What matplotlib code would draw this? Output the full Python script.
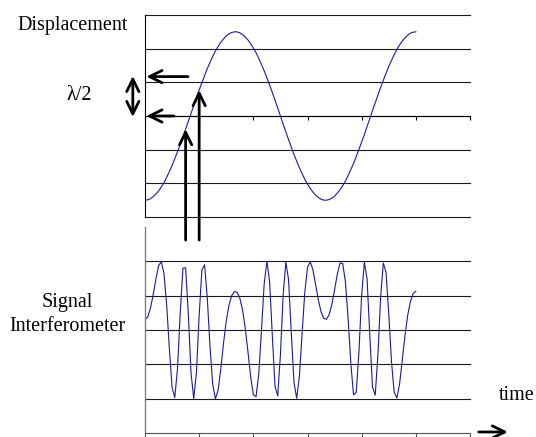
import numpy as np
import matplotlib
matplotlib.use("Agg")
import matplotlib.pyplot as plt

# 101 samples drawn over 5 of the 6 category tick intervals
sample = np.arange(101)

displacement = [
  -2.50, -2.49, -2.46, -2.40, -2.32, -2.23, -2.11, -1.98, -1.82, -1.65,
  -1.47, -1.27, -1.06, -0.85, -0.62, -0.39, -0.16, 0.08, 0.31, 0.55,
  0.77, 0.99, 1.20, 1.41, 1.59, 1.77, 1.93, 2.07, 2.19, 2.29,
  2.38, 2.44, 2.48, 2.50, 2.50, 2.47, 2.42, 2.35, 2.26, 2.15,
  2.02, 1.88, 1.71, 1.53, 1.34, 1.14, 0.92, 0.70, 0.47, 0.24,
  0.00, -0.24, -0.47, -0.70, -0.92, -1.14, -1.34, -1.53, -1.71, -1.88,
  -2.02, -2.15, -2.26, -2.35, -2.42, -2.47, -2.50, -2.50, -2.48, -2.44,
  -2.38, -2.29, -2.19, -2.07, -1.93, -1.77, -1.59, -1.41, -1.20, -0.99,
  -0.77, -0.55, -0.31, -0.08, 0.16, 0.39, 0.62, 0.85, 1.06, 1.27,
  1.47, 1.65, 1.82, 1.98, 2.11, 2.23, 2.32, 2.40, 2.46, 2.49,
  2.50,
]

signal = [
  3.30, 3.38, 3.63, 4.02, 4.47, 4.87, 4.99, 4.65, 3.73, 2.45,
  1.33, 1.03, 1.88, 3.49, 4.80, 4.81, 3.46, 1.74, 1.00, 1.77,
  3.43, 4.75, 4.90, 3.93, 2.52, 1.41, 1.00, 1.25, 1.88, 2.62,
  3.26, 3.72, 4.00, 4.12, 4.10, 3.93, 3.59, 3.06, 2.38, 1.65,
  1.11, 1.06, 1.71, 2.99, 4.34, 5.00, 4.42, 2.85, 1.36, 1.08,
  2.27, 4.01, 4.98, 4.47, 2.93, 1.48, 1.01, 1.64, 2.89, 4.10,
  4.82, 4.99, 4.75, 4.32, 3.88, 3.53, 3.34, 3.31, 3.45, 3.75,
  4.17, 4.62, 4.95, 4.94, 4.40, 3.33, 2.03, 1.11, 1.19, 2.38,
  4.02, 4.98, 4.48, 2.85, 1.34, 1.10, 2.28, 3.96, 4.95, 4.68,
  3.47, 2.09, 1.19, 1.02, 1.43, 2.13, 2.85, 3.43, 3.83, 4.06,
  4.13,
]

# the two samples picked out by the vertical arrows
marked = [15, 20]

W, H = 536, 437
LINE = "#1c1c96"
FONT = "Liberation Serif"
FS = 14.5


def fig_rect(x0, y0, x1, y1):
  return [x0 / W, 1 - y1 / H, (x1 - x0) / W, (y1 - y0) / H]


fig = plt.figure(figsize=(W / 100, H / 100), dpi=100)

# ---------- displacement panel ----------
ax1 = fig.add_axes(fig_rect(145, 15, 470, 217))
ax1.plot(sample, displacement, color=LINE, lw=0.8)
ax1.set_xlim(0, 120)
ax1.set_ylim(-3, 3)
ax1.set_xticks(range(0, 121, 20))
ax1.set_yticks(range(-3, 4))
ax1.yaxis.grid(True, color="#1a1a1a", lw=0.8)
ax1.tick_params(axis="y", length=0, labelleft=False)
ax1.tick_params(axis="x", direction="out", length=3, width=0.8, labelbottom=False)
for s in ("top", "right"):
  ax1.spines[s].set_visible(False)
ax1.spines["bottom"].set_position(("data", 0))
ax1.spines["bottom"].set_linewidth(0.8)
ax1.spines["left"].set_linewidth(0.8)
ax1.patch.set_alpha(0)

# ---------- interferometer signal panel ----------
ax2 = fig.add_axes(fig_rect(145, 227, 470, 433))
ax2.plot(sample, signal, color=LINE, lw=0.8)
ax2.set_xlim(0, 120)
ax2.set_ylim(0, 6)
ax2.set_xticks(range(0, 121, 20))
ax2.set_yticks(range(1, 6))
ax2.yaxis.grid(True, color="#1a1a1a", lw=0.8)
ax2.tick_params(axis="y", length=0, labelleft=False)
ax2.tick_params(axis="x", direction="out", length=3, width=0.8, color="#555555",
                labelbottom=False)
for s in ("top", "right"):
  ax2.spines[s].set_visible(False)
ax2.spines["left"].set_color("#808080")
ax2.spines["left"].set_linewidth(1.0)
ax2.spines["bottom"].set_color("#555555")
ax2.spines["bottom"].set_linewidth(0.8)
ax2.patch.set_alpha(0)

# keep the edge gridlines whole
for ax in (ax1, ax2):
  for gl in ax.yaxis.get_gridlines():
    gl.set_clip_on(False)

# ---------- arrows ----------
arrow = dict(arrowstyle="->,head_length=0.45,head_width=0.22", lw=2.0,
             color="black", shrinkA=0, shrinkB=0, mutation_scale=20)

# signal samples pointing up to the displacement curve
for i in marked:
  ax2.annotate("", xy=(sample[i], displacement[i]), xycoords=ax1.transData,
               xytext=(sample[i], 5.62), textcoords=ax2.transData,
               arrowprops=arrow, annotation_clip=False)

ax1.annotate("", xy=(0.5, 1.17), xytext=(15.9, 1.17), arrowprops=arrow,
             annotation_clip=False)
ax1.annotate("", xy=(0.5, 0.0), xytext=(10.7, 0.0), arrowprops=arrow,
             annotation_clip=False)

# lambda/2 span
ax1.annotate("", xy=(-4.5, 1.19), xytext=(-4.5, -0.03),
             arrowprops=dict(arrow, arrowstyle="<->,head_length=0.45,head_width=0.22"),
             annotation_clip=False)

# time direction
ax2.annotate("", xy=(134, 0.03), xytext=(123.2, 0.03), arrowprops=arrow,
             annotation_clip=False)

# ---------- labels ----------
fig.text(72.5 / W, 1 - 30 / H, "Displacement", ha="center", va="baseline",
         family=FONT, fontsize=FS)
fig.text(79.5 / W, 1 - 99.5 / H, "λ/2", ha="center", va="baseline",
         family=FONT, fontsize=FS)
fig.text(67 / W, 1 - 307 / H, "Signal", ha="center", va="baseline",
         family=FONT, fontsize=FS)
fig.text(67.5 / W, 1 - 331 / H, "Interferometer", ha="center", va="baseline",
         family=FONT, fontsize=FS)
fig.text(499 / W, 1 - 400 / H, "time", ha="left", va="baseline",
         family=FONT, fontsize=FS)

fig.savefig("out.png", dpi=100)
